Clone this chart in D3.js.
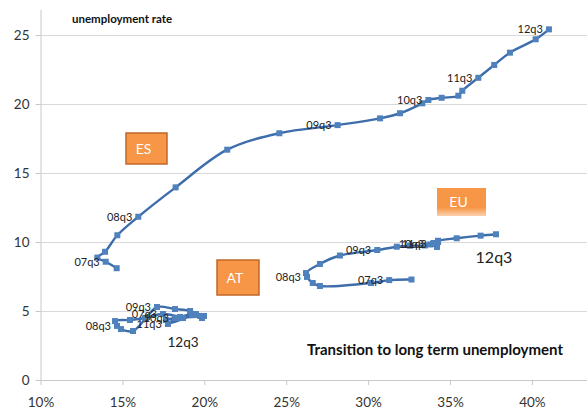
<!DOCTYPE html>
<html><head><meta charset="utf-8">
<script src="https://cdn.jsdelivr.net/npm/d3@7"></script>
<style>
html,body{margin:0;padding:0;background:#fff;}
svg{display:block;font-family:Lato,"Open Sans",sans-serif;}
</style></head>
<body>
<svg id="c" width="587" height="410"></svg>
<script>
// ---- data (x = share of long-term unemployment in %, y = unemployment rate in %) ----
const esX = [14.65,13.98,13.47,13.94,14.69,15.97,18.25,21.40,24.58,28.14,30.73,31.95,33.31,33.68,34.49,35.51,35.75,36.73,37.70,38.66,40.23,41.04];
const esY = [8.10,8.57,8.87,9.29,10.49,11.83,13.96,16.69,17.88,18.47,18.96,19.33,20.05,20.29,20.45,20.60,20.96,21.90,22.83,23.72,24.69,25.41];
const esLabels = {1:"07q3",5:"08q3",9:"09q3",13:"10q3",17:"11q3",21:"12q3"};

const euX = [32.65,31.29,30.18,27.06,26.62,26.27,26.21,27.06,28.28,30.56,31.75,32.56,33.47,33.78,34.21,34.02,34.27,33.96,34.27,35.41,36.87,37.81];
const euY = [7.28,7.24,7.03,6.81,7.03,7.47,7.75,8.41,9.02,9.42,9.66,9.73,9.75,9.82,9.64,9.93,10.00,9.89,10.09,10.27,10.46,10.56];
const euLabels = {1:"07q3",5:"08q3",9:"09q3",13:"10q3",17:"11q3"};

const atX = [18.70,17.48,16.38,15.46,14.55,14.67,14.91,15.65,16.44,17.11,18.21,19.13,19.74,18.21,17.66,18.52,19.25,17.78,18.39,19.49,19.98,19.86];
const atY = [4.49,4.78,4.49,4.35,4.27,3.92,3.69,3.55,4.49,5.29,5.14,5.00,4.64,4.49,4.35,4.57,4.71,4.06,4.49,4.78,4.64,4.49];
const atLabels = {1:"07q3",5:"08q3",9:"09q3",13:"10q3",17:"11q3"};

const xTicks = [10,15,20,25,30,35,40];
const yTicks = [0,5,10,15,20,25];

// ---- layout ----
const svg = d3.select("#c");
const x = d3.scaleLinear().domain([10,45]).range([40.5,613.8]);
const y = d3.scaleLinear().domain([0,25]).range([380,35]);
const plotTop = 10, plotRight = 600;

// gridlines
svg.append("g").selectAll("line").data(yTicks.filter(d=>d>0)).join("line")
  .attr("x1",x(10)).attr("x2",plotRight).attr("y1",d=>Math.round(y(d))+0.5).attr("y2",d=>Math.round(y(d))+0.5)
  .attr("stroke","#d9d9d9").attr("stroke-width",1);

// axes
const xAxis = svg.append("g").attr("transform",`translate(0,${y(0)})`)
  .call(d3.axisBottom(x).tickValues(xTicks).tickFormat(d=>d+"%").tickSize(5).tickPadding(12).tickSizeOuter(0));
xAxis.select(".domain").attr("stroke","#c8c8c8").attr("d",`M${x(10)},0.5H${plotRight}`);
xAxis.selectAll(".tick line").attr("stroke","#c8c8c8");
xAxis.selectAll("text").attr("font-size",13.5).attr("fill","#333").attr("font-family","Lato");

const yAxis = svg.append("g").attr("transform",`translate(${x(10)},0)`)
  .call(d3.axisLeft(y).tickValues(yTicks).tickSize(5).tickPadding(6).tickSizeOuter(0));
yAxis.select(".domain").attr("stroke","#c8c8c8").attr("d",`M0.5,${plotTop}V${y(0)}`);
yAxis.selectAll(".tick line").attr("stroke","#c8c8c8");
yAxis.selectAll("text").attr("font-size",13.5).attr("fill","#333").attr("font-family","Lato");

// series
const line = d3.line().x(d=>x(d[0])).y(d=>y(d[1])).curve(d3.curveCatmullRom.alpha(0.5));
function series(xs, ys, labels){
  const pts = xs.map((v,i)=>[v,ys[i]]);
  const g = svg.append("g");
  g.append("path").datum(pts).attr("d",line).attr("fill","none")
    .attr("stroke","#3d6dab").attr("stroke-width",2.4);
  g.selectAll("rect").data(pts).join("rect")
    .attr("x",d=>x(d[0])-3).attr("y",d=>y(d[1])-3).attr("width",6).attr("height",6)
    .attr("fill","#4f81bd");
  g.selectAll("text").data(Object.keys(labels)).join("text")
    .attr("x",k=>x(pts[k][0])-6).attr("y",k=>y(pts[k][1])+4)
    .attr("text-anchor","end").attr("font-size",11).attr("fill","#222")
    .text(k=>labels[k]);
}
series(esX, esY, esLabels);
series(euX, euY, euLabels);
series(atX, atY, atLabels);

// large 12q3 annotations
svg.append("text").attr("x",494).attr("y",263).attr("text-anchor","middle")
  .attr("font-size",16).attr("fill","#222").text("12q3");
svg.append("text").attr("x",183).attr("y",347).attr("text-anchor","middle")
  .attr("font-size",13.5).attr("fill","#222").text("12q3");

// country boxes
const defs = svg.append("defs");
const gr = defs.append("linearGradient").attr("id","eug").attr("x1",0).attr("y1",0).attr("x2",0).attr("y2",1);
gr.append("stop").attr("offset","0%").attr("stop-color","#f79646");
gr.append("stop").attr("offset","70%").attr("stop-color","#f79646");
gr.append("stop").attr("offset","100%").attr("stop-color","#fbd0ae");
const boxes = [
  {t:"ES", x:126, y:133, w:41, h:31, fill:"#f79646", stroke:"#c0682a"},
  {t:"AT", x:217, y:260, w:42, h:35, fill:"#f79646", stroke:"#c0682a"},
  {t:"EU", x:437, y:188, w:49, h:28, fill:"url(#eug)", stroke:"none"}
];
const bg = svg.append("g").selectAll("g").data(boxes).join("g");
bg.append("rect").attr("x",d=>d.x).attr("y",d=>d.y).attr("width",d=>d.w).attr("height",d=>d.h)
  .attr("fill",d=>d.fill).attr("stroke",d=>d.stroke).attr("stroke-width",1.5);
bg.append("text").attr("x",d=>d.x+d.w/2-3).attr("y",d=>d.y+d.h/2+5)
  .attr("text-anchor","middle").attr("font-size",14).attr("fill","#fff").text(d=>d.t);

// titles
svg.append("text").attr("x",72).attr("y",23).attr("font-size",11.5).attr("font-weight","bold")
  .attr("fill","#111").text("unemployment rate");
svg.append("text").attr("x",307).attr("y",355).attr("font-size",14.5).attr("font-weight","bold")
  .attr("textLength",256).attr("lengthAdjust","spacingAndGlyphs")
  .attr("fill","#111").text("Transition to long term unemployment");
</script>
</body></html>
